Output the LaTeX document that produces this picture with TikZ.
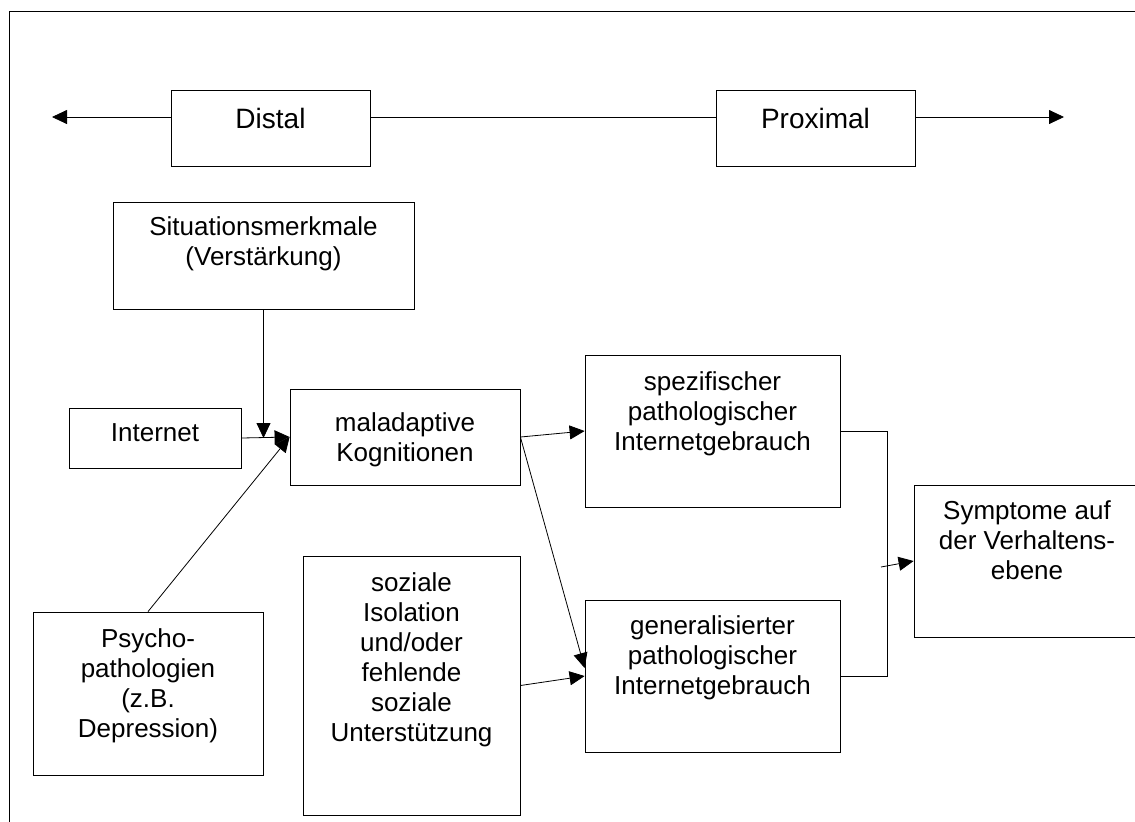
\documentclass[tikz,border=0pt]{standalone}
\usepackage{fontspec}
\setmainfont{Liberation Sans}
\usetikzlibrary{arrows.meta,fit,positioning}
\tikzset{>={Triangle[length=7.5pt,width=7pt]},line width=0.95pt}
\tikzset{box/.style={draw,inner sep=0pt}}
\tikzset{boxtext/.style={inner sep=0pt,align=center,font=\fontsize{13}{15}\selectfont}}

\begin{document}
\begin{tikzpicture}[x=0.5pt,y=-0.5pt]
  \useasboundingbox (0,0) rectangle (1135,821);
  % frame, open to the right and bottom
  \draw (1145,11) -- (9,11) -- (9,830);

  % distal - proximal axis
  \node[box, fit={(171,90) (370,166)}] (distal) {};
  \node[boxtext, font=\fontsize{14}{16}\selectfont, below=9.3pt of distal.north] (distaltxt) {Distal};
  \node[box, fit={(716,90) (915,166)}] (proximal) {};
  \node[boxtext, font=\fontsize{14}{16}\selectfont, below=9.3pt of proximal.north] (proximaltxt) {Proximal};
  \coordinate (axisL) at (52,117);
  \coordinate (axisR) at (1064,117);

  % boxes
  \node[box, fit={(113,202) (414,309)}] (sit) {};
  \node[boxtext, below=7.5pt of sit.north] (sittxt) {Situationsmerkmale\\(Verstärkung)};
  \node[box, fit={(69,408) (241,468)}] (inet) {};
  \node[boxtext, below=8pt of inet.north] (inettxt) {Internet};
  \node[box, fit={(290,389) (520,485)}] (mal) {};
  \node[boxtext, below=12pt of mal.north] (maltxt) {maladaptive\\Kognitionen};
  \node[box, fit={(33,612) (263,775)}] (psycho) {};
  \node[boxtext, below=8.5pt of psycho.north] (psychotxt) {Psycho-\\pathologien\\(z.B.\\Depression)};
  \node[box, fit={(303,556) (520,815)}] (soz) {};
  \node[boxtext, below=8.5pt of soz.north] (soztxt) {soziale\\Isolation\\und/oder\\fehlende\\soziale\\Unterstützung};
  \node[box, fit={(585,355) (840,507)}] (spez) {};
  \node[boxtext, below=8.5pt of spez.north] (speztxt) {spezifischer\\pathologischer\\Internetgebrauch};
  \node[box, fit={(585,600) (840,752)}] (gen) {};
  \node[boxtext, below=8pt of gen.north] (gentxt) {generalisierter\\pathologischer\\Internetgebrauch};
  \node[box, fit={(914,485) (1140,637)}] (sym) {};
  \node[boxtext, below=8pt of sym.north] (symtxt) {Symptome auf\\der Verhaltens-\\ebene};
  \coordinate (bus) at (887,560);
  \coordinate (symin) at (881,567);

  \path[->]
    (distal.west |- axisL) edge (axisL)
    (proximal.east |- axisR) edge (axisR)
    (sit.south) edge (sit.south |- inet.east)
    (inet.east) edge (mal.west)
    (psycho.north) edge (mal.west)
    (mal.east) edge (spez.west)
    (mal.east) edge ([yshift=4pt]gen.west)
    (soz.east) edge (gen.west)
    (symin) edge (sym.west)
  ;
  \draw (distal.east |- axisL) -- (proximal.west |- axisR);
  \draw (spez.east) -| (bus) |- (gen.east);
\end{tikzpicture}
\end{document}
